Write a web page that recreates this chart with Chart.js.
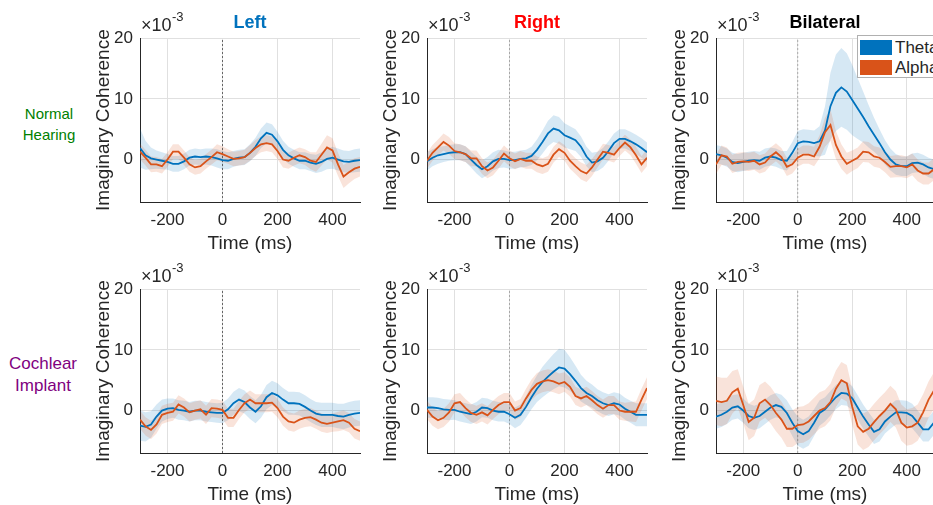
<!DOCTYPE html>
<html>
<head>
<meta charset="utf-8">
<title>Imaginary coherence</title>
<script src="https://cdn.jsdelivr.net/npm/chart.js@4.4.1/dist/chart.umd.min.js"></script>
<style>
  html, body { margin: 0; padding: 0; background: #fff; }
  body { width: 933px; height: 505px; position: relative; overflow: hidden;
         font-family: "Liberation Sans", Arial, sans-serif; color: #262626; }
  canvas { position: absolute; }
  .txt { position: absolute; white-space: nowrap; }
  .ttl { font-weight: bold; font-size: 18px; line-height: 20px; transform: translateX(-50%); }
  .x10 { font-size: 18px; line-height: 18px; }
  .e3 { font-size: 13px; line-height: 13px; }
  .rowlab { text-align: center; transform: translateX(-50%); }
  #legend { position: absolute; left: 857px; top: 35px; width: 100px; height: 41px;
            background: #fff; border: 1px solid #b0b0b0; z-index: 5; }
  .item { position: absolute; left: 2px; height: 15px; font-size: 17px; line-height: 15px; }
  .item i { display: inline-block; width: 32px; height: 15px; vertical-align: top; margin-right: 3px; }
</style>
</head>
<body>
<script>
// time axis (ms) and ticks
const times = [-300, -280, -260, -240, -220, -200, -180, -160, -140, -120,
               -100, -80, -60, -40, -20, 0, 20, 40, 60, 80,
               100, 120, 140, 160, 180, 200, 220, 240, 260, 280,
               300, 320, 340, 360, 380, 400, 420, 440, 460, 480,
               500];
const xTicks = [-200, 0, 200, 400];
const yTicks = [0, 10, 20];
const xRange = [-300, 500];
const yRange = [-7, 20];
const seriesNames = ['Theta', 'Alpha'];

// imaginary coherence, x10^-3 : Normal Hearing
const nhLeftTheta = [1.9, 0.7, 0.2, 0.0, -0.2, -0.4, -0.7, -0.7, -0.3, 0.3,
  0.5, 0.4, 0.5, 0.4, 0.2, -0.1, -0.2, 0.1, 0.3, 0.4,
  1.1, 2.1, 3.5, 4.4, 4.1, 3.0, 1.6, 0.7, 0.2, -0.2,
  -0.2, -0.5, -0.7, -0.4, 0.1, 0.3, 0.0, -0.3, -0.4, -0.2,
  -0.1];
const nhLeftThetaErr = [3.2, 2.4, 1.8, 1.5, 1.4, 1.3, 1.3, 1.3, 1.3, 1.3,
  1.3, 1.3, 1.3, 1.4, 1.5, 1.5, 1.4, 1.3, 1.3, 1.3,
  1.4, 1.5, 1.6, 1.7, 1.7, 1.6, 1.5, 1.4, 1.4, 1.4,
  1.4, 1.4, 1.5, 1.6, 1.7, 1.8, 1.8, 1.8, 1.8, 1.9,
  1.9];
const nhLeftAlpha = [1.3, 0.3, -0.8, -0.8, -1.1, 0.0, 1.3, 1.3, 0.3, -0.8,
  -1.3, -1.1, -0.3, 0.4, 1.2, 0.9, 0.5, 0.1, 0.2, 0.4,
  1.1, 1.9, 2.5, 2.7, 2.5, 1.4, 0.0, -0.2, 0.3, 0.7,
  0.4, -0.2, -0.4, 0.8, 2.0, 1.5, -0.8, -2.8, -2.1, -1.5,
  -1.2];
const nhLeftAlphaErr = [1.3, 1.3, 1.3, 1.2, 1.2, 1.2, 1.2, 1.2, 1.2, 1.2,
  1.2, 1.2, 1.2, 1.2, 1.3, 1.3, 1.2, 1.2, 1.2, 1.2,
  1.3, 1.3, 1.3, 1.3, 1.3, 1.3, 1.3, 1.3, 1.3, 1.3,
  1.3, 1.4, 1.6, 1.8, 2.0, 2.0, 1.9, 1.9, 1.8, 1.7,
  1.6];

const nhRightTheta = [-0.3, 0.3, 0.7, 0.9, 1.1, 1.2, 1.2, 0.9, 0.0, -0.9,
  -1.6, -1.1, -0.3, 0.1, 0.1, -0.1, -0.1, 0.1, 0.2, 0.6,
  1.6, 2.9, 4.3, 5.1, 4.8, 4.0, 3.6, 3.2, 2.1, 0.5,
  -0.5, -0.3, 0.3, 1.4, 2.7, 3.4, 3.4, 3.0, 2.5, 1.9,
  1.2];
const nhRightThetaErr = [1.5, 1.4, 1.4, 1.3, 1.3, 1.3, 1.3, 1.3, 1.3, 1.4,
  1.5, 1.5, 1.5, 1.5, 1.4, 1.4, 1.4, 1.4, 1.4, 1.5,
  1.7, 1.9, 2.1, 2.2, 2.2, 2.0, 1.9, 1.8, 1.7, 1.6,
  1.6, 1.6, 1.6, 1.6, 1.6, 1.6, 1.6, 1.6, 1.6, 1.6,
  1.6];
const nhRightAlpha = [-0.2, 1.1, 2.0, 2.9, 2.3, 1.4, 1.2, 0.9, 0.2, 0.2,
  -1.1, -1.8, -1.3, -0.2, 1.0, 0.2, -0.3, 0.1, -0.2, -0.2,
  -0.8, -1.1, -0.7, 0.8, 1.7, 1.1, -0.2, -1.1, -1.9, -2.3,
  -1.3, 0.0, 1.3, 1.1, 0.8, 1.9, 2.8, 2.0, 0.7, -0.8,
  0.3];
const nhRightAlphaErr = [1.3, 1.3, 1.3, 1.4, 1.4, 1.3, 1.3, 1.3, 1.3, 1.3,
  1.3, 1.3, 1.3, 1.3, 1.3, 1.3, 1.3, 1.3, 1.3, 1.3,
  1.3, 1.3, 1.3, 1.3, 1.3, 1.3, 1.3, 1.3, 1.4, 1.4,
  1.4, 1.3, 1.3, 1.3, 1.3, 1.3, 1.3, 1.3, 1.4, 1.4,
  1.4];

const nhBiTheta = [0.9, 0.7, 0.3, -0.4, -0.6, -0.4, -0.2, -0.1, -0.2, 0.3,
  0.5, 0.3, -0.1, -0.2, 1.1, 2.7, 3.0, 2.9, 2.7, 3.0,
  4.8, 8.8, 11.0, 11.9, 11.2, 9.8, 8.4, 7.0, 5.5, 4.1,
  2.7, 1.2, 0.0, -0.8, -1.1, -1.1, -0.6, -0.5, -0.8, -1.3,
  -1.6];
const nhBiThetaErr = [1.5, 1.5, 1.5, 1.5, 1.5, 1.5, 1.5, 1.5, 1.5, 1.5,
  1.5, 1.5, 1.5, 1.6, 1.8, 2.0, 2.0, 2.0, 2.1, 2.5,
  4.0, 5.5, 6.3, 6.5, 6.3, 5.8, 5.0, 4.2, 3.5, 2.8,
  2.3, 2.0, 1.8, 1.7, 1.6, 1.6, 1.6, 1.6, 1.6, 1.6,
  1.6];
const nhBiAlpha = [-0.8, 0.7, 0.5, -0.7, -0.4, -0.3, -0.4, -0.2, -0.8, -0.5,
  0.5, 1.2, 0.4, -1.2, -0.8, 0.3, 0.8, 0.8, 0.5, 2.1,
  4.5, 5.7, 2.4, 0.5, -0.7, -0.2, 0.3, 1.3, 1.2, 0.5,
  0.3, -0.4, -1.2, -1.1, -1.1, -1.3, -0.8, -1.8, -2.3, -2.3,
  -1.6];
const nhBiAlphaErr = [1.6, 1.6, 1.5, 1.5, 1.5, 1.5, 1.5, 1.5, 1.5, 1.5,
  1.5, 1.5, 1.5, 1.5, 1.5, 1.5, 1.5, 1.5, 1.6, 1.9,
  2.4, 2.6, 2.3, 2.0, 1.8, 1.7, 1.7, 1.7, 1.7, 1.7,
  1.7, 1.7, 1.8, 1.8, 1.8, 1.8, 1.8, 1.8, 1.8, 1.8,
  1.8];

// imaginary coherence, x10^-3 : Cochlear Implant
const ciLeftTheta = [-2.5, -2.7, -2.3, -1.0, 0.0, 0.3, 0.4, 0.1, 0.0, -0.2,
  0.0, 0.0, -0.2, -0.3, -0.4, -0.4, 0.2, 1.2, 1.8, 1.4,
  0.5, -0.2, 0.7, 2.2, 2.9, 2.5, 1.8, 1.2, 1.2, 1.1,
  0.6, 0.0, -0.5, -0.7, -0.7, -0.7, -0.9, -1.0, -0.7, -0.5,
  -0.4];
const ciLeftThetaErr = [2.5, 2.4, 2.2, 2.0, 1.8, 1.7, 1.6, 1.6, 1.6, 1.6,
  1.6, 1.6, 1.6, 1.6, 1.6, 1.7, 1.8, 1.9, 1.9, 1.9,
  1.9, 1.9, 1.9, 2.0, 2.0, 2.0, 1.9, 1.9, 1.9, 1.9,
  1.9, 1.9, 1.9, 2.0, 2.0, 2.0, 2.0, 2.1, 2.1, 2.1,
  2.1];
const ciLeftAlpha = [-1.5, -2.6, -3.2, -2.3, -0.7, -0.4, -0.2, 1.0, 0.5, -0.3,
  0.0, 0.2, -0.7, 0.4, 0.3, 0.1, -1.2, -1.2, 0.1, 1.2,
  1.8, 1.2, 1.2, 1.2, 1.3, 0.4, -1.0, -1.8, -2.0, -1.5,
  -1.2, -1.1, -1.5, -2.0, -2.2, -2.0, -1.8, -1.6, -2.0, -3.0,
  -3.4];
const ciLeftAlphaErr = [1.5, 1.5, 1.5, 1.5, 1.5, 1.5, 1.5, 1.5, 1.5, 1.5,
  1.5, 1.5, 1.5, 1.5, 1.5, 1.5, 1.5, 1.5, 1.5, 1.5,
  1.5, 1.5, 1.5, 1.5, 1.5, 1.5, 1.5, 1.5, 1.5, 1.5,
  1.5, 1.5, 1.5, 1.5, 1.5, 1.5, 1.6, 1.6, 1.6, 1.6,
  1.6];

const ciRightTheta = [0.5, 0.5, 0.4, 0.2, 0.1, 0.1, -0.2, -0.4, -0.6, -0.2,
  0.5, 0.4, 0.0, -0.2, -0.2, -0.6, -1.2, -0.7, 0.6, 2.2,
  3.6, 4.7, 5.6, 6.4, 7.1, 6.9, 6.0, 4.9, 3.7, 2.9,
  2.4, 1.7, 1.2, 0.9, 1.2, 1.0, 0.3, -0.2, -0.7, -0.7,
  -0.7];
const ciRightThetaErr = [1.7, 1.7, 1.7, 1.7, 1.7, 1.6, 1.6, 1.6, 1.6, 1.6,
  1.6, 1.6, 1.6, 1.6, 1.6, 1.6, 1.7, 1.7, 1.8, 2.0,
  2.2, 2.5, 2.7, 2.9, 3.1, 3.1, 2.8, 2.5, 2.2, 2.0,
  1.9, 1.8, 1.8, 1.8, 1.8, 1.8, 1.8, 1.8, 1.9, 1.9,
  1.9];
const ciRightAlpha = [0.1, -1.0, -1.6, -1.2, -0.3, 1.2, 1.4, 0.4, -0.4, -0.7,
  -0.3, -0.8, 0.1, 0.9, 1.4, 1.4, 0.0, 0.4, 2.0, 3.4,
  4.4, 4.8, 5.0, 4.8, 4.4, 4.7, 3.9, 2.4, 2.0, 2.4,
  1.7, 0.9, 0.3, 0.9, 0.9, 0.0, -0.2, -0.2, -0.2, 1.8,
  3.7];
const ciRightAlphaErr = [1.5, 1.5, 1.5, 1.5, 1.5, 1.5, 1.5, 1.5, 1.5, 1.5,
  1.5, 1.5, 1.5, 1.5, 1.5, 1.5, 1.5, 1.5, 1.6, 1.7,
  1.8, 1.8, 1.8, 1.8, 1.7, 1.6, 1.6, 1.5, 1.5, 1.5,
  1.5, 1.5, 1.5, 1.5, 1.5, 1.5, 1.5, 1.6, 1.7, 1.8,
  1.8];

const ciBiTheta = [-1.0, -0.7, -0.2, 0.5, 0.7, 0.0, -0.9, -1.2, -0.9, -0.2,
  0.5, 0.9, 0.6, -0.4, -2.0, -3.4, -3.9, -3.4, -2.0, -0.4,
  0.2, 1.2, 2.2, 2.9, 2.8, 2.0, 0.5, -1.0, -2.3, -3.5,
  -3.1, -1.8, -1.0, -0.3, -0.3, -0.4, -0.9, -2.0, -3.1, -3.1,
  -2.0];
const ciBiThetaErr = [2.0, 2.0, 2.0, 2.0, 2.0, 2.0, 2.0, 2.0, 2.0, 2.0,
  2.0, 2.0, 2.0, 2.1, 2.2, 2.4, 2.4, 2.4, 2.2, 2.1,
  2.0, 2.0, 2.0, 2.0, 2.0, 2.0, 2.0, 2.0, 2.0, 2.0,
  2.0, 2.0, 2.0, 2.0, 2.0, 2.0, 2.0, 2.0, 2.0, 2.0,
  2.0];
const ciBiAlpha = [1.6, 1.4, 1.6, 3.0, 3.6, 0.9, -1.9, -1.2, 1.2, 1.8,
  0.9, -0.4, -1.5, -3.0, -3.0, -2.4, -2.3, -1.8, -0.9, 0.0,
  0.4, 1.4, 3.6, 5.0, 4.5, 0.6, -2.6, -3.5, -3.0, -1.9,
  -0.9, 0.0, 1.1, 0.2, -2.0, -2.8, -2.6, -2.0, -0.3, 1.8,
  3.3];
const ciBiAlphaErr = [4.0, 4.0, 3.8, 3.5, 3.2, 3.0, 3.0, 3.0, 3.0, 3.0,
  3.0, 3.0, 3.0, 3.0, 3.0, 3.0, 3.0, 3.0, 3.0, 3.0,
  3.0, 3.0, 3.0, 3.0, 3.0, 3.0, 3.0, 3.0, 3.0, 3.0,
  3.0, 3.0, 3.0, 3.0, 3.0, 3.0, 3.0, 3.0, 3.0, 3.0,
  3.0];

// layout of the 2x3 grid (pixels)
const colBoxes = [{ left: 140, w: 220 }, { left: 427, w: 220 }, { left: 716, w: 218 }];
const rowBoxes = [{ top: 33 }, { top: 284 }];
const PLOT_H = 169, Y_AXIS_W = 48, X_AXIS_H = 53, PAD_T = 12, PAD_R = 14;

const lineColors = ['#0072BD', '#D95319'];
const bandColors = ['rgba(0,114,189,0.16)', 'rgba(217,83,25,0.16)'];
const inkColor = '#262626';
const gridColor = '#e0e0e0';
const fontFamily = '"Liberation Sans", Arial, sans-serif';

const panels = [
  { row: 0, col: 0, theta: nhLeftTheta, thetaErr: nhLeftThetaErr, alpha: nhLeftAlpha, alphaErr: nhLeftAlphaErr, zero: 'rgba(60,60,60,0.75)' },
  { row: 0, col: 1, theta: nhRightTheta, thetaErr: nhRightThetaErr, alpha: nhRightAlpha, alphaErr: nhRightAlphaErr, zero: 'rgba(60,60,60,0.35)' },
  { row: 0, col: 2, theta: nhBiTheta, thetaErr: nhBiThetaErr, alpha: nhBiAlpha, alphaErr: nhBiAlphaErr, zero: 'rgba(60,60,60,0.35)' },
  { row: 1, col: 0, theta: ciLeftTheta, thetaErr: ciLeftThetaErr, alpha: ciLeftAlpha, alphaErr: ciLeftAlphaErr, zero: 'rgba(60,60,60,0.75)' },
  { row: 1, col: 1, theta: ciRightTheta, thetaErr: ciRightThetaErr, alpha: ciRightAlpha, alphaErr: ciRightAlphaErr, zero: 'rgba(60,60,60,0.35)' },
  { row: 1, col: 2, theta: ciBiTheta, thetaErr: ciBiThetaErr, alpha: ciBiAlpha, alphaErr: ciBiAlphaErr, zero: 'rgba(60,60,60,0.35)' }
];

const colTitles = [
  { text: 'Left', color: '#0072BD' },
  { text: 'Right', color: '#FF0000' },
  { text: 'Bilateral', color: '#000000' }
];
const rowTitles = [
  { lines: ['Normal', 'Hearing'], color: '#008000', cx: 49, top: 103, size: 15, lh: 21 },
  { lines: ['Cochlear', 'Implant'], color: '#800080', cx: 43, top: 353, size: 17, lh: 22 }
];

function pts(vals, errs, sign) {
  return times.map((t, i) => ({ x: t, y: vals[i] + sign * errs[i] }));
}

function bandPair(vals, errs, color, order) {
  const base = { pointRadius: 0, borderWidth: 0, borderColor: 'rgba(0,0,0,0)', order: order };
  return [
    Object.assign({ data: pts(vals, errs, 1), fill: false }, base),
    Object.assign({ data: pts(vals, errs, -1), fill: '-1', backgroundColor: color }, base)
  ];
}

function meanLine(label, vals, color, order) {
  return {
    label: label, data: times.map((t, i) => ({ x: t, y: vals[i] })),
    borderColor: color, borderWidth: 1.8, pointRadius: 0, fill: false, order: order
  };
}

function addText(cls, html, style) {
  const d = document.createElement('div');
  d.className = 'txt ' + cls;
  d.innerHTML = html;
  Object.assign(d.style, style);
  document.body.appendChild(d);
  return d;
}

panels.forEach(p => {
  const c = colBoxes[p.col], r = rowBoxes[p.row];
  const cv = document.createElement('canvas');
  const w = Y_AXIS_W + c.w + PAD_R, h = PAD_T + PLOT_H + X_AXIS_H;
  cv.width = w; cv.height = h;
  cv.style.left = (c.left - Y_AXIS_W) + 'px';
  cv.style.top = (r.top - PAD_T) + 'px';
  cv.style.width = w + 'px'; cv.style.height = h + 'px';
  document.body.appendChild(cv);

  const datasets = [
    ...bandPair(p.theta, p.thetaErr, bandColors[0], 10),
    ...bandPair(p.alpha, p.alphaErr, bandColors[1], 9),
    { data: [{ x: 0, y: yRange[0] }, { x: 0, y: yRange[1] }], borderColor: p.zero,
      borderWidth: 1, borderDash: [2, 2], pointRadius: 0, fill: false, order: 5 },
    meanLine(seriesNames[0], p.theta, lineColors[0], 2),
    meanLine(seriesNames[1], p.alpha, lineColors[1], 1)
  ];

  new Chart(cv.getContext('2d'), {
    type: 'line',
    data: { datasets: datasets },
    options: {
      responsive: false,
      animation: false,
      events: [],
      layout: { padding: { top: PAD_T, right: PAD_R, left: 0, bottom: 0 } },
      plugins: { legend: { display: false }, tooltip: { enabled: false }, title: { display: false } },
      scales: {
        x: {
          type: 'linear', min: xRange[0], max: xRange[1],
          afterBuildTicks: s => { s.ticks = xTicks.map(v => ({ value: v })); },
          afterFit: s => { s.height = X_AXIS_H; },
          grid: { color: gridColor, drawTicks: false },
          border: { display: true, color: inkColor, width: 1 },
          ticks: { autoSkip: false, maxRotation: 0, padding: 8, color: inkColor,
                   font: { family: fontFamily, size: 17 } },
          title: { display: true, text: 'Time (ms)', color: inkColor, padding: 0,
                   font: { family: fontFamily, size: 19 } }
        },
        y: {
          type: 'linear', min: yRange[0], max: yRange[1],
          afterBuildTicks: s => { s.ticks = yTicks.map(v => ({ value: v })); },
          afterFit: s => { s.width = Y_AXIS_W; },
          grid: { color: gridColor, drawTicks: false },
          border: { display: true, color: inkColor, width: 1 },
          ticks: { padding: 7, color: inkColor, font: { family: fontFamily, size: 17 } },
          title: { display: true, text: 'Imaginary Coherence', color: inkColor, padding: 0,
                   font: { family: fontFamily, size: 19 } }
        }
      }
    }
  });

  // axis exponent label
  addText('x10', '\u00d710', { left: (c.left + 1) + 'px', top: (r.top - 17) + 'px' });
  addText('e3', '-3', { left: (c.left + 32) + 'px', top: (r.top - 23) + 'px' });
});

colTitles.forEach((t, i) => {
  const c = colBoxes[i];
  addText('ttl', t.text, { left: (c.left + c.w / 2) + 'px', top: '12px', color: t.color });
});

rowTitles.forEach(t => {
  addText('rowlab', t.lines.join('<br>'), {
    left: t.cx + 'px', top: t.top + 'px', color: t.color,
    fontSize: t.size + 'px', lineHeight: t.lh + 'px'
  });
});

// legend inside the top-right panel
const legend = document.createElement('div');
legend.id = 'legend';
seriesNames.forEach((name, i) => {
  const it = document.createElement('div');
  it.className = 'item';
  it.style.top = (4 + i * 20) + 'px';
  it.innerHTML = '<i style="background:' + lineColors[i] + '"></i>' + name;
  legend.appendChild(it);
});
document.body.appendChild(legend);
</script>
</body>
</html>
